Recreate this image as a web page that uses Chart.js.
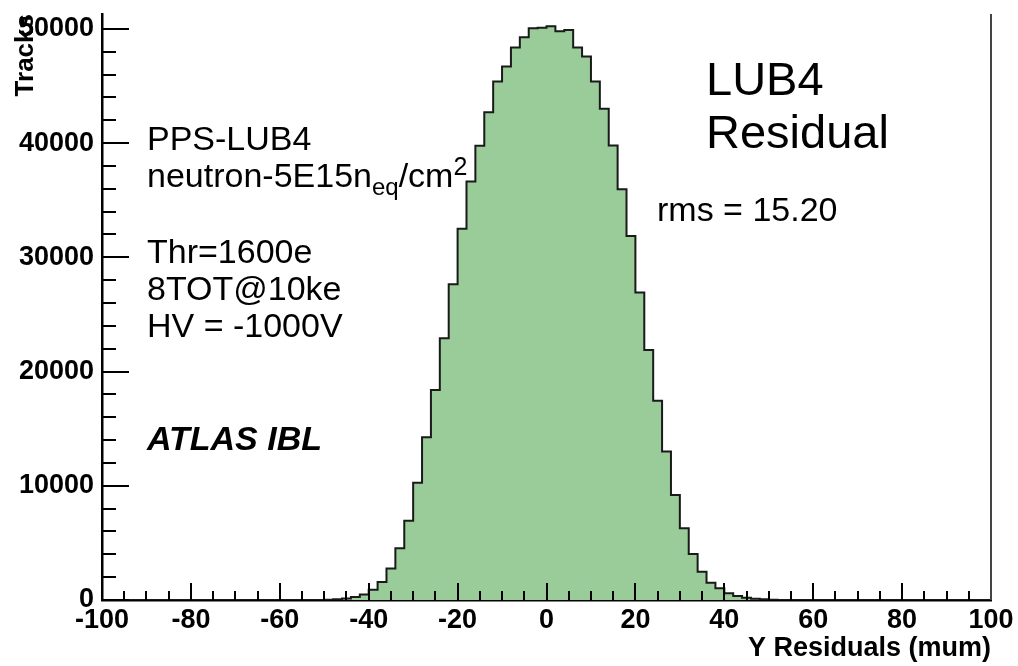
<!DOCTYPE html>
<html>
<head>
<meta charset="utf-8">
<script src="https://cdn.jsdelivr.net/npm/chart.js@4.4.1/dist/chart.umd.min.js"></script>
<style>
  html, body { margin: 0; padding: 0; background: #fff; }
  #wrap { width: 1018px; height: 666px; }
</style>
</head>
<body>
<div id="wrap"><canvas id="chart" width="1018" height="666"></canvas></div>
<script>
// histogram: 100 bins of 2 um from -100 to 100
const binStart = -100;
const binWidth = 2;
const counts = [
  0, 0, 0, 0, 0, 0, 0, 0, 0, 0,
  0, 0, 0, 0, 0, 0, 0, 0, 0, 0,
  0, 0, 0, 0, 0, 20, 60, 130, 260, 480,
  900, 1580, 2750, 4530, 6940, 10270, 14250, 18390, 22920, 27650,
  32490, 36630, 39760, 42700, 45390, 46700, 48370, 49270, 50050, 50090,
  50220, 49780, 49910, 48360, 47570, 45390, 43000, 39780, 35960, 31870,
  26910, 21890, 17450, 12990, 9190, 6280, 4030, 2480, 1515, 1020,
  580, 350, 200, 120, 60, 20, 0, 0, 0, 0,
  0, 0, 0, 0, 0, 0, 0, 0, 0, 0,
  0, 0, 0, 0, 0, 0, 0, 0, 0, 0
];

const xTicks = [-100, -80, -60, -40, -20, 0, 20, 40, 60, 80, 100];
const yTicks = [0, 10000, 20000, 30000, 40000, 50000];
const xMinorStep = 5;
const yMinorStep = 2000;
const yMax = 51300;

const xTitle = 'Y Residuals (mum)';
const yTitle = 'Tracks';

// build step points from bin edges
const points = counts.map((c, i) => ({ x: binStart + i * binWidth, y: c }));
points.push({ x: binStart + counts.length * binWidth, y: counts[counts.length - 1] });

const FONT = "'Liberation Sans', Arial, Helvetica, sans-serif";

// ROOT style ticks pointing into the frame
const innerTicks = {
  id: 'innerTicks',
  afterDatasetsDraw(chart) {
    const { ctx, chartArea: a, scales: { x, y } } = chart;
    ctx.save();
    ctx.strokeStyle = '#000';
    ctx.lineWidth = 2;
    ctx.beginPath();
    for (let v = xTicks[0]; v <= xTicks[xTicks.length - 1]; v += xMinorStep) {
      const px = Math.round(x.getPixelForValue(v));
      const len = xTicks.includes(v) ? 17 : 9;
      ctx.moveTo(px, a.bottom);
      ctx.lineTo(px, a.bottom - len);
    }
    for (let v = 0; v <= yMax; v += yMinorStep) {
      const py = Math.round(y.getPixelForValue(v));
      const len = yTicks.includes(v) ? 27 : 14;
      ctx.moveTo(a.left, py);
      ctx.lineTo(a.left + len, py);
    }
    ctx.stroke();
    // right side of the frame
    ctx.strokeStyle = '#444';
    ctx.beginPath();
    ctx.moveTo(a.right, a.top);
    ctx.lineTo(a.right, a.bottom);
    ctx.stroke();
    ctx.restore();
  }
};

// text boxes drawn on the pad
const labels = {
  id: 'labels',
  afterDraw(chart) {
    const ctx = chart.ctx;
    ctx.save();
    ctx.fillStyle = '#000';
    ctx.textBaseline = 'alphabetic';
    ctx.textAlign = 'left';

    ctx.font = '34px ' + FONT;
    ctx.fillText('PPS-LUB4', 147, 150);

    // neutron-5E15n_eq/cm^2
    let x0 = 147;
    const base = 187;
    ctx.font = '34px ' + FONT;
    ctx.fillText('neutron-5E15n', x0, base);
    x0 += ctx.measureText('neutron-5E15n').width;
    ctx.font = '24px ' + FONT;
    ctx.fillText('eq', x0, base + 8);
    x0 += ctx.measureText('eq').width;
    ctx.font = '34px ' + FONT;
    ctx.fillText('/cm', x0, base);
    x0 += ctx.measureText('/cm').width;
    ctx.font = '25px ' + FONT;
    ctx.fillText('2', x0, base - 12);

    ctx.font = '34px ' + FONT;
    ctx.fillText('Thr=1600e', 147, 263);
    ctx.fillText('8TOT@10ke', 147, 300);
    ctx.fillText('HV = -1000V', 147, 337);

    ctx.font = 'italic bold 34px ' + FONT;
    ctx.fillText('ATLAS IBL', 147, 450);

    ctx.font = '47px ' + FONT;
    ctx.fillText('LUB4', 706, 95);
    ctx.fillText('Residual', 706, 148);

    ctx.font = '34px ' + FONT;
    ctx.fillText('rms = 15.20', 657, 221);
    ctx.restore();
  }
};

new Chart(document.getElementById('chart'), {
  type: 'line',
  data: {
    datasets: [{
      data: points,
      stepped: 'before',
      fill: 'origin',
      backgroundColor: '#99cc99',
      borderColor: '#1a1a1a',
      borderWidth: 2,
      pointRadius: 0,
      tension: 0
    }]
  },
  options: {
    responsive: false,
    animation: false,
    layout: { padding: { top: 14, right: 27, left: 0, bottom: 0 } },
    plugins: {
      legend: { display: false },
      tooltip: { enabled: false }
    },
    scales: {
      x: {
        type: 'linear',
        min: xTicks[0],
        max: xTicks[xTicks.length - 1],
        afterBuildTicks: s => { s.ticks = xTicks.map(v => ({ value: v })); },
        afterFit: s => { s.height = 66; s.paddingLeft = 0; s.paddingRight = 0; },
        grid: { display: false, drawTicks: false },
        border: { display: true, color: '#000', width: 2.5 },
        ticks: {
          padding: 4,
          color: '#000',
          maxRotation: 0,
          callback: v => String(v),
          font: { family: FONT, size: 27, weight: 'bold' }
        },
        title: {
          display: true,
          text: xTitle,
          align: 'end',
          color: '#000',
          padding: { top: 0, bottom: 1 },
          font: { family: FONT, size: 27, weight: 'bold' }
        }
      },
      y: {
        min: 0,
        max: yMax,
        afterBuildTicks: s => { s.ticks = yTicks.map(v => ({ value: v })); },
        afterFit: s => { s.width = 102; s.paddingTop = 0; s.paddingBottom = 0; },
        grid: { display: false, drawTicks: false },
        border: { display: true, color: '#000', width: 2.5 },
        ticks: {
          padding: 8,
          color: '#000',
          callback: v => String(v),
          font: { family: FONT, size: 27, weight: 'bold' }
        },
        title: {
          display: true,
          text: yTitle,
          align: 'end',
          color: '#000',
          padding: { top: 10, bottom: 0 },
          font: { family: FONT, size: 26, weight: 'bold' }
        }
      }
    }
  },
  plugins: [innerTicks, labels]
});
</script>
</body>
</html>
